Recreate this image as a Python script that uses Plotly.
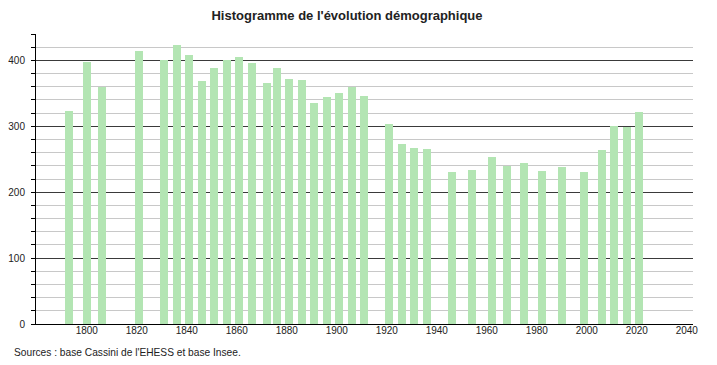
import plotly.graph_objects as go

years = [1793, 1800, 1806, 1821, 1831, 1836, 1841, 1846, 1851, 1856, 1861, 1866,
         1872, 1876, 1881, 1886, 1891, 1896, 1901, 1906, 1911, 1921, 1926, 1931,
         1936, 1946, 1954, 1962, 1968, 1975, 1982, 1990, 1999, 2006, 2011, 2016, 2021]
population = [323, 397, 360, 414, 401, 423, 408, 368, 388, 401, 405, 396,
              365, 388, 371, 370, 335, 344, 350, 360, 346, 303, 273, 267,
              265, 230, 233, 253, 240, 244, 232, 238, 230, 264, 300, 299, 321]
x_ticks = [1800, 1820, 1840, 1860, 1880, 1900, 1920, 1940, 1960, 1980, 2000, 2020, 2040]
y_ticks = [0, 100, 200, 300, 400]

title = "Histogramme de l'évolution démographique"
source = "Sources : base Cassini de l'EHESS et base Insee."

# The page body keeps the browser's 8px margin, so the figure is sized and
# placed to compensate for it inside the 717x365 window.
W, H = 709, 357
L, R, T, B = 28, 24, 26, 41
PW, PH = W - L - R, H - T - B

fig = go.Figure(go.Bar(
    x=years, y=population, width=3.2,
    marker=dict(color="#b3e5b3", line=dict(width=0)),
    hoverinfo="x+y",
))

fig.update_layout(
    width=W, height=H,
    margin=dict(l=L, r=R, t=T, b=B, autoexpand=False),
    paper_bgcolor="white", plot_bgcolor="white",
    font=dict(family="Liberation Sans, Arial, sans-serif", size=10, color="#222"),
    title=dict(text="<b>" + title + "</b>", x=339 / W, xanchor="center",
               y=1 - 7.5 / H, yanchor="middle",
               font=dict(size=13, color="#222")),
    showlegend=False,
    bargap=0,
)

fig.update_xaxes(
    range=[1779.7, 2042.5], tickvals=x_ticks, ticktext=[str(v) for v in x_ticks],
    showgrid=False, zeroline=False, showline=True, linecolor="black", linewidth=1,
    ticks="", ticklabelstandoff=-3, automargin=False,
)
fig.update_yaxes(
    range=[0, 440], tickvals=y_ticks, ticktext=[str(v) for v in y_ticks],
    showgrid=True, gridcolor="#3a3a3a", gridwidth=1,
    zeroline=False, showline=True, linecolor="black", linewidth=1,
    ticks="outside", ticklen=4, tickcolor="black", ticklabelstandoff=4,
    minor=dict(dtick=20, tick0=0, showgrid=True, gridcolor="#c8c8c8", gridwidth=1,
               ticks="outside", ticklen=4, tickcolor="black"),
    layer="below traces", automargin=False,
)

fig.add_annotation(
    text=source, xref="paper", yref="paper",
    x=-(L - 4) / PW, xanchor="left", y=-28 / PH, yanchor="middle",
    showarrow=False, font=dict(size=10.2, color="#222"),
)

fig.write_html("out.html")
